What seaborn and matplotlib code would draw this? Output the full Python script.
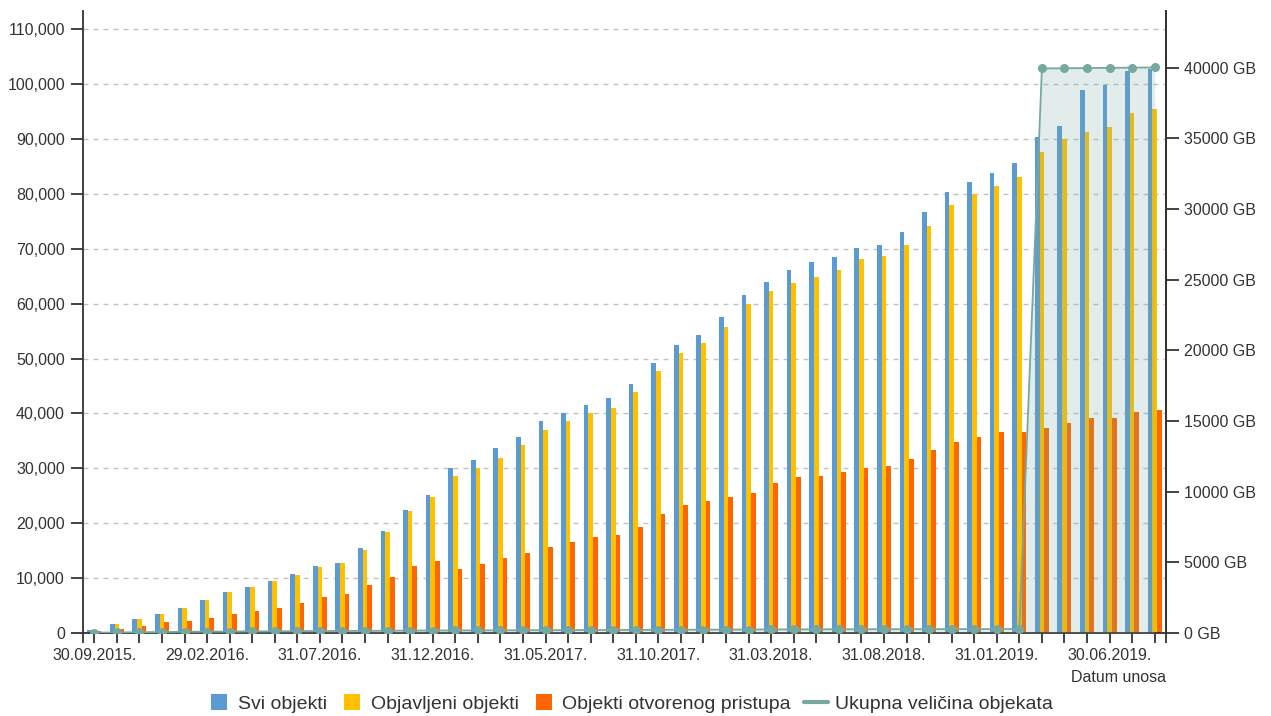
import numpy as np
import pandas as pd
import matplotlib
matplotlib.use("Agg")
import matplotlib.pyplot as plt
from matplotlib.ticker import FuncFormatter, FixedLocator
from matplotlib.lines import Line2D
import seaborn as sns

# ---------------- data ----------------
dates = [
    "30.09.2015.", "31.10.2015.", "30.11.2015.", "31.12.2015.",
    "31.01.2016.", "29.02.2016.", "31.03.2016.", "30.04.2016.", "31.05.2016.", "30.06.2016.",
    "31.07.2016.", "31.08.2016.", "30.09.2016.", "31.10.2016.", "30.11.2016.", "31.12.2016.",
    "31.01.2017.", "28.02.2017.", "31.03.2017.", "30.04.2017.", "31.05.2017.", "30.06.2017.",
    "31.07.2017.", "31.08.2017.", "30.09.2017.", "31.10.2017.", "30.11.2017.", "31.12.2017.",
    "31.01.2018.", "28.02.2018.", "31.03.2018.", "30.04.2018.", "31.05.2018.", "30.06.2018.",
    "31.07.2018.", "31.08.2018.", "30.09.2018.", "31.10.2018.", "30.11.2018.", "31.12.2018.",
    "31.01.2019.", "28.02.2019.", "31.03.2019.", "30.04.2019.", "31.05.2019.", "30.06.2019.",
    "31.07.2019.", "31.08.2019.",
]

svi_objekti = [500, 1580, 2550, 3400, 4550, 6000, 7520, 8380, 9530, 10690,
               12140, 12750, 15420, 18640, 22460, 25070, 30050, 31560, 33630, 35760,
               38670, 40120, 41580, 42750, 45410, 49240, 52520, 54210, 57500, 61620,
               63990, 66060, 67520, 68430, 70130, 70730, 73100, 76680, 80350, 82170,
               83860, 85610, 90320, 92340, 98860, 99730, 102350, 102780]

objavljeni = [350, 1550, 2500, 3380, 4500, 5980, 7500, 8350, 9500, 10650,
              12100, 12750, 15120, 18330, 22160, 24820, 28650, 30100, 31900, 34240,
              36910, 38670, 40120, 41040, 43950, 47780, 51060, 52820, 55740, 59870,
              62240, 63700, 64900, 66060, 68130, 68670, 70730, 74200, 78000, 79890,
              81490, 82980, 87680, 89900, 91250, 92120, 94690, 95420]

otvoreni = [300, 700, 1270, 1950, 2190, 2730, 3400, 4000, 4500, 5400,
            6560, 7160, 8680, 10140, 12140, 13050, 11600, 12510, 13660, 14510,
            15720, 16580, 17490, 17800, 19250, 21620, 23310, 23980, 24830, 25440,
            27260, 28360, 28650, 29270, 30110, 30420, 31630, 33390, 34780, 35650,
            36530, 36530, 37410, 38280, 39150, 39150, 40300, 40630]

velicina_gb = [20, 40, 55, 70, 85, 95, 105, 115, 120, 130,
               140, 145, 150, 160, 170, 175, 180, 185, 190, 195,
               200, 205, 210, 215, 220, 225, 230, 235, 240, 245,
               250, 255, 260, 262, 265, 268, 270, 272, 275, 278,
               280, 285, 39950, 39960, 39975, 39990, 40000, 40020]

series_names = ["Svi objekti", "Objavljeni objekti", "Objekti otvorenog pristupa"]
line_name = "Ukupna veličina objekata"
left_ticks = [0, 10000, 20000, 30000, 40000, 50000, 60000, 70000, 80000, 90000, 100000, 110000]
right_ticks = [0, 5000, 10000, 15000, 20000, 25000, 30000, 35000, 40000]

# ---------------- style ----------------
colors = ["#5b9bd5", "#ffc000", "#ff6600"]
teal = "#77a8a0"
txt = "#333333"

sns.set_theme(style="white")
plt.rcParams["font.family"] = ["Liberation Sans", "DejaVu Sans"]
plt.rcParams["lines.scale_dashes"] = False

df = pd.DataFrame({
    "date": dates * 3,
    "value": svi_objekti + objavljeni + otvoreni,
    "series": [series_names[0]] * len(dates) + [series_names[1]] * len(dates) + [series_names[2]] * len(dates),
})

W, H = 1271, 716
fig = plt.figure(figsize=(W / 100, H / 100), dpi=100)
ax = fig.add_axes([83 / W, (H - 633) / H, (1166 - 83) / W, (633 - 11) / H])

sns.barplot(data=df, x="date", y="value", hue="series", hue_order=series_names,
            palette=colors, width=0.62, gap=0, saturation=1, errorbar=None,
            legend=False, ax=ax, linewidth=0, zorder=2)

ax.set_xlim(-0.5, len(dates) - 0.5)
ax.set_ylim(0, 113300)
ax.set_xlabel("")
ax.set_ylabel("")
ax.yaxis.set_major_locator(FixedLocator(left_ticks))
ax.yaxis.set_major_formatter(FuncFormatter(lambda v, p: f"{int(v):,}"))
ax.set_xticks(range(len(dates)))
ax.set_xticklabels([d if i % 5 == 0 else "" for i, d in enumerate(dates)])
ax.set_xticks([-0.5, len(dates) - 0.5], minor=True)
ax.set_axisbelow(True)
ax.yaxis.grid(True, color="#c2c2c2", linewidth=1.0, linestyle=(0, (3.6, 3.6)))
ax.xaxis.grid(False)

for s in ["top"]:
    ax.spines[s].set_visible(False)
for s in ["left", "bottom", "right"]:
    ax.spines[s].set_color(txt)
    ax.spines[s].set_linewidth(1.3)

ax.tick_params(axis="y", which="major", length=9, width=1.3, color=txt, pad=4,
               labelsize=11.5, labelcolor=txt, left=True)
ax.tick_params(axis="x", which="both", length=7, width=1.3, color=txt, pad=4,
               labelsize=11.5, labelcolor=txt, bottom=True)

# ---------------- secondary axis: size line ----------------
ax2 = ax.twinx()
xpos = np.arange(len(velicina_gb))
ax2.fill_between(xpos, 0, velicina_gb, color=teal, alpha=0.21, linewidth=0, zorder=1)
sns.lineplot(x=xpos, y=velicina_gb, ax=ax2, color=teal, linewidth=1.3, marker="o",
             markersize=6.5, markeredgewidth=0, legend=False, zorder=3)
ax2.set_ylim(0, 44012)
ax2.set_xlim(-0.5, len(dates) - 0.5)
ax2.yaxis.set_major_locator(FixedLocator(right_ticks))
ax2.yaxis.set_major_formatter(FuncFormatter(lambda v, p: f"{int(v)} GB"))
ax2.grid(False)
ax2.set_ylabel("")
for s in ["top", "left", "bottom"]:
    ax2.spines[s].set_visible(False)
ax2.spines["right"].set_color(txt)
ax2.spines["right"].set_linewidth(1.3)
ax2.tick_params(axis="y", length=9, width=1.3, color=txt, pad=4,
                labelsize=11.5, labelcolor=txt, right=True)

fig.text(1166 / W, 1 - 677 / H, "Datum unosa", ha="right", va="center",
         fontsize=11.5, color=txt)

# ---------------- legend ----------------
handles = [Line2D([0], [0], marker="s", linestyle="none", markersize=11.5,
                  markerfacecolor=c, markeredgewidth=0) for c in colors]
handles.append(Line2D([0], [0], color=teal, linewidth=3))
fig.legend(handles, series_names + [line_name], loc="center",
           bbox_to_anchor=(630 / W, 1 - 704 / H), ncol=4, frameon=False,
           fontsize=14, handlelength=1.2, handletextpad=0.35, columnspacing=0.7,
           labelcolor=txt, borderaxespad=0, borderpad=0)

fig.savefig("out.png", dpi=100)
